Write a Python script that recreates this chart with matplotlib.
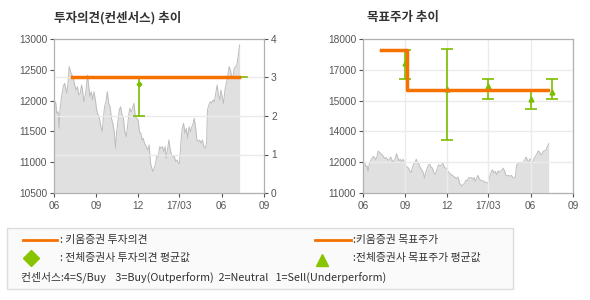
import matplotlib
matplotlib.use("Agg")
import numpy as np
import pandas as pd
from matplotlib import pyplot as plt
from matplotlib.lines import Line2D
from matplotlib.patches import Rectangle
from matplotlib.ticker import FuncFormatter

KR = ['Noto Sans CJK KR', 'DejaVu Sans']
NUM = ['Liberation Sans', 'DejaVu Sans']

# closing price: days since START and value
START = '2016-06-01'
price_days = [0, 4, 6, 9, 11, 13, 16, 20, 23, 28, 31, 33, 36, 39, 42, 45, 48, 51, 54, 57,
              60, 62, 65, 69, 73, 75, 78, 81, 84, 87, 90, 93, 96, 99, 102, 105, 107, 110, 113, 116,
              119, 122, 125, 128, 131, 134, 136, 139, 142, 145, 148, 151, 154, 157, 160, 163, 165,
              168, 171, 174, 177, 180, 183, 186, 189, 192, 194, 197,
              201, 204, 207, 210, 213, 215, 218, 221, 224, 227, 230, 233, 236, 239, 242, 244, 247,
              250, 253, 256, 259, 262, 265, 268, 271, 273, 276, 279, 282, 285, 288, 291, 294, 297,
              300, 303, 305, 308, 311, 314, 317, 320, 323, 326, 329, 332, 334, 337, 340, 343, 346,
              349, 352, 355, 358, 361, 363, 366, 369, 372, 375, 378, 381, 384, 387, 390, 392, 395,
              398, 401, 404]
price_values = [12010, 11956, 11793, 11820, 11550, 11847, 12037, 12226, 12280, 12118,
                12334, 12551, 12470, 12416, 12361, 12253, 12172, 12226, 12091, 12118,
                12253, 12172, 11983, 12118, 12416, 12280, 12064, 12145, 12010, 12145,
                12010, 11847, 11766, 11712, 11577, 11496, 11685, 11901, 11983, 12145,
                11956, 11901, 11712, 11631, 11496, 11225, 11469, 11658, 11847, 11901,
                11766, 11712, 11496, 11415, 11577, 11793, 11874, 11820, 11874, 11956,
                11739, 11712, 11685, 11496, 11469, 11360, 11387, 11306,
                11252, 11198, 11280, 10982, 10901, 10847, 10901, 10982, 11117, 11090,
                11252, 11225, 11252, 11171, 11252, 11063, 11198, 11361, 11198, 11117,
                11090, 11090, 11009, 11036, 10982, 10982, 11307, 11550, 11631, 11469,
                11550, 11388, 11577, 11496, 11577, 11631, 11712, 11577, 11361, 11334,
                11361, 11307, 11361, 11252, 11225, 11307, 11848, 11929, 11983, 11956,
                12010, 11983, 12118, 12254, 12091, 12010, 12172, 12064, 11956, 12172,
                12281, 12389, 12551, 12497, 12362, 12416, 12524, 12551, 12578, 12741,
                12903]

# investment opinion (consensus scale 1-4)
opinion_dates = ['2016-07-10', '2017-07-08']
opinion_kiwoom = [3, 3]
opinion_avg_dates = ['2016-07-10', '2017-07-25']
opinion_avg = [3, 3]
opinion_bar_date = ['2016-12-02']
opinion_bar_mean = [2.83]
opinion_bar_low = [2.0]
opinion_bar_high = [3.0]

# target price
target_dates = ['2016-07-11', '2016-09-04', '2017-07-08']
target_kiwoom = [17500, 15700, 15700]
target_bar_dates = ['2016-09-01', '2016-12-01', '2017-03-01', '2017-06-01', '2017-07-18']
target_bar_mean = [16900, 15730, 15880, 15290, 15610]
target_bar_low = [16170, 13400, 15280, 14800, 15280]
target_bar_high = [17510, 17540, 16170, 15700, 16170]

tick_dates = ['2016-06-01', '2016-09-01', '2016-12-01', '2017-03-01', '2017-06-01', '2017-09-01']
tick_labels = ['06', '09', '12', '17/03', '06', '09']

ORANGE = '#f57100'
GREEN = '#7cbd00'
SPINE = '#b0b0b0'
GRID = '#ebebeb'
TXT = '#555555'

pd_price = pd.Timestamp(START) + pd.to_timedelta(price_days, unit='D')
ticks = pd.to_datetime(tick_dates)
xmin, xmax = ticks[0], ticks[-1]

fig = plt.figure(figsize=(5.9, 3.0), dpi=100)


def style_axis(ax):
    for s in ax.spines.values():
        s.set_color(SPINE)
    ax.tick_params(colors=TXT, labelsize=7.3, length=3, width=0.8, pad=2)
    ax.tick_params(axis='x', pad=3)
    for lbl in ax.get_xticklabels() + ax.get_yticklabels():
        lbl.set_family(NUM)


# ---- left chart: investment opinion ----
ax = fig.add_axes([54 / 590, 107 / 300, 210 / 590, 154 / 300])
ax.fill_between(pd_price, price_values, 10500, color='#e0e0e0', lw=0, zorder=0.3)
ax.plot(pd_price, price_values, color='#bdbdbd', lw=0.7, zorder=0.4)
ax.set_ylim(10500, 13000)
ax.set_yticks(np.arange(10500, 13001, 500))
ax.set_xlim(xmin, xmax)
ax.set_xticks(ticks)
ax.set_xticklabels(tick_labels)

ax2 = ax.twinx()
ax2.set_ylim(0, 4)
ax2.set_yticks([0, 1, 2, 3, 4])
ax2.grid(True, axis='both', color=GRID, lw=1.0, zorder=0.5)
ax2.set_axisbelow(True)
op_bar = pd.to_datetime(opinion_bar_date)
ax2.errorbar(op_bar, opinion_bar_mean,
             yerr=[np.subtract(opinion_bar_mean, opinion_bar_low),
                   np.subtract(opinion_bar_high, opinion_bar_mean)],
             fmt='P', color=GREEN, ms=3, elinewidth=1.2, capsize=4, capthick=1.2, zorder=3)
ax2.plot(pd.to_datetime(opinion_avg_dates), opinion_avg, color=GREEN, lw=1.2, zorder=3)
ax2.plot(pd.to_datetime(opinion_dates), opinion_kiwoom, color=ORANGE, lw=2.5, zorder=4)
style_axis(ax)
style_axis(ax2)
fig.text(54 / 590, 1 - 18 / 300, '투자의견(컨센서스) 추이', family=KR, fontsize=9,
         fontweight='bold', color='#333333', va='center')

# ---- right chart: target price ----
bx = fig.add_axes([363 / 590, 107 / 300, 210 / 590, 154 / 300])
bp = bx.twinx()
bx.set_zorder(bp.get_zorder() + 1)
bx.patch.set_visible(False)
bp.fill_between(pd_price, price_values, 10500, color='#e0e0e0', lw=0, zorder=0.3)
bp.plot(pd_price, price_values, color='#bdbdbd', lw=0.7, zorder=0.4)
bp.set_ylim(10500, 18000)
bp.set_yticks([])
for s in bp.spines.values():
    s.set_color(SPINE)

bx.set_ylim(11000, 18000)
bx.set_yticks(np.linspace(11000, 18000, 6))
bx.yaxis.set_major_formatter(FuncFormatter(lambda v, p: '%d' % (round(v / 1000.0) * 1000)))
bx.set_xlim(xmin, xmax)
bx.set_xticks(ticks)
bx.set_xticklabels(tick_labels)
bx.grid(True, color=GRID, lw=1.0)
tb = pd.to_datetime(target_bar_dates)
bx.errorbar(tb, target_bar_mean,
            yerr=[np.subtract(target_bar_mean, target_bar_low),
                  np.subtract(target_bar_high, target_bar_mean)],
            fmt='^', color=GREEN, ms=3.5, elinewidth=1.2, capsize=4, capthick=1.2, zorder=3)
bx.plot(pd.to_datetime(target_dates), target_kiwoom, color=ORANGE, lw=2.5,
        drawstyle='steps-post', zorder=4)
style_axis(bx)
fig.text(367 / 590, 1 - 18 / 300, '목표주가 추이', family=KR, fontsize=9,
         fontweight='bold', color='#333333', va='center')

# ---- legend box ----
W, H = 590.0, 300.0
fig.add_artist(Rectangle((7 / W, 1 - 289 / H), 506 / W, 61 / H, transform=fig.transFigure,
                         facecolor='#fafafa', edgecolor='#dcdcdc', lw=1))
fig.add_artist(Line2D([23 / W, 57 / W], [1 - 240 / H] * 2, transform=fig.transFigure,
                      color=ORANGE, lw=2))
fig.add_artist(Line2D([31 / W], [1 - 258 / H], transform=fig.transFigure, marker='D',
                      ms=8, color='#88c400', lw=0))
fig.add_artist(Line2D([315 / W, 351 / W], [1 - 240 / H] * 2, transform=fig.transFigure,
                      color=ORANGE, lw=2))
fig.add_artist(Line2D([322 / W], [1 - 260 / H], transform=fig.transFigure, marker='^',
                      ms=8, color='#88c400', lw=0))
leg_kw = dict(family=KR, fontsize=7.8, color='#333333', va='center')
fig.text(60 / W, 1 - 240 / H, ': 키움증권 투자의견', **leg_kw)
fig.text(60 / W, 1 - 258 / H, ': 전체증권사 투자의견 평균값', **leg_kw)
fig.text(353 / W, 1 - 240 / H, ':키움증권 목표주가', **leg_kw)
fig.text(353 / W, 1 - 258 / H, ':전체증권사 목표주가 평균값', **leg_kw)
fig.text(21 / W, 1 - 277 / H,
         '컨센서스:4=S/Buy    3=Buy(Outperform)  2=Neutral   1=Sell(Underperform)', **leg_kw)

fig.savefig('out.png', dpi=100)
